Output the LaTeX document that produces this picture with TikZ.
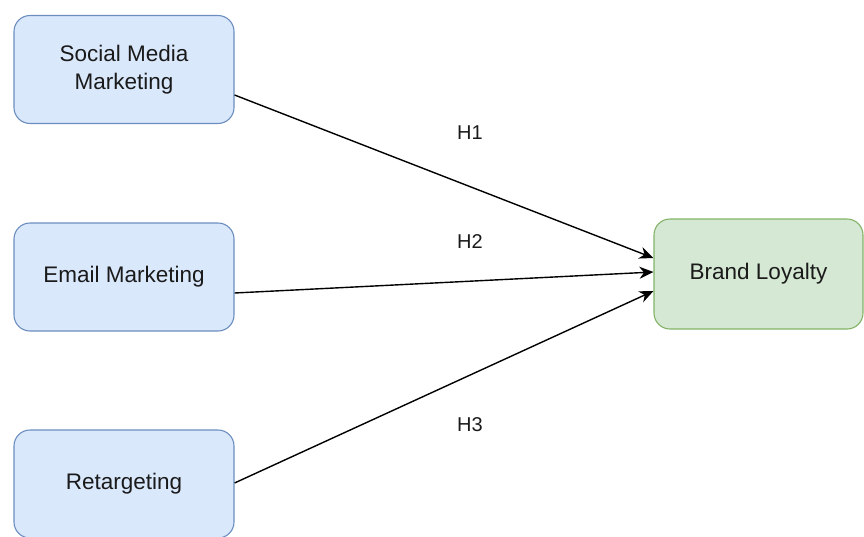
\documentclass[tikz,border=0pt]{standalone}
\usepackage{fontspec}
\setmainfont{Liberation Sans}
\usepackage{xcolor}
\usetikzlibrary{arrows.meta,shapes,positioning,calc}

\definecolor{blueFill}{HTML}{DAE8FC}
\definecolor{blueLine}{HTML}{6C8EBF}
\definecolor{greenFill}{HTML}{D5E8D4}
\definecolor{greenLine}{HTML}{82B366}
\definecolor{inkGray}{HTML}{1A1A1A}

\begin{document}
\begin{tikzpicture}[x=1pt, y=-1pt,
  factor/.style={draw=blueLine, fill=blueFill, line width=1.1pt, rectangle, rounded corners=16pt,
    minimum width=220pt, minimum height=108pt, align=center, text=inkGray,
    font=\fontsize{22.5}{28}\selectfont},
  outcome/.style={draw=greenLine, fill=greenFill, line width=1.1pt, rectangle, rounded corners=16pt,
    minimum width=209pt, minimum height=110pt, text=inkGray, font=\fontsize{22.5}{28}\selectfont},
  hyp/.style={text=inkGray, font=\fontsize{20}{24}\selectfont},
  flow/.style={-{Stealth[length=14pt, width=12pt, inset=4.5pt]}, line width=1.4pt}]
\useasboundingbox (0,0) rectangle (864,536);

% Factors
\node[factor] (smm) at (124,69.5) {Social Media\\Marketing};
\node[factor] (email) at (124,277) {Email Marketing};
\node[factor] (retarget) at (124,484) {Retargeting};

% Outcome
\node[outcome] (loyalty) at (758.5,274) {Brand Loyalty};

% Hypotheses
\node[hyp] (h1) at (470,133) {H1};
\node[hyp] (h2) at (470,242) {H2};
\node[hyp] (h3) at (470,425) {H3};

% Flows
\draw[flow] ([yshift=-25.5pt]smm.east) -- ([yshift=16pt]loyalty.west);
\draw[flow] ([yshift=-16pt]email.east) -- ([yshift=2pt]loyalty.west);
\draw[flow] ([yshift=1pt]retarget.east) -- ([yshift=-17pt]loyalty.west);

\end{tikzpicture}
\end{document}
